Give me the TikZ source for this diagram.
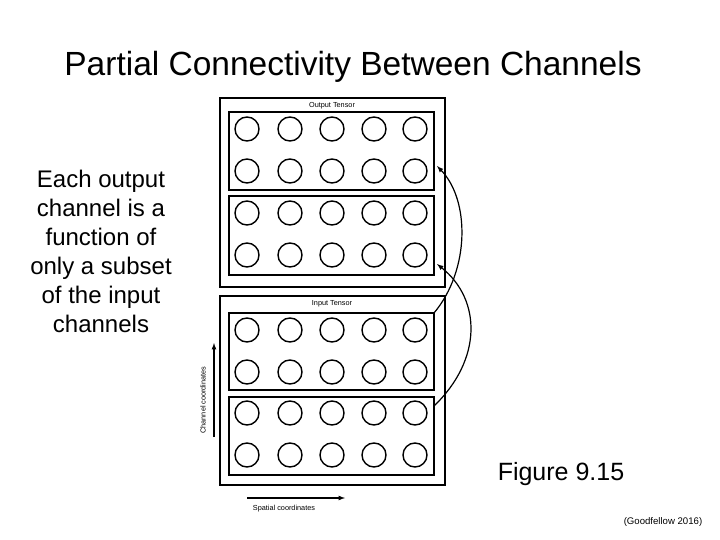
\documentclass[tikz,border=0pt]{standalone}
\usepackage{fontspec}
\setmainfont{Liberation Sans}
\begin{document}
\begin{tikzpicture}[x=1pt,y=-1pt,
  box/.style={draw,line width=1.4pt},
  unit/.style={circle,draw,line width=1.4pt,minimum size=24pt,inner sep=0pt},
  tiny/.style={font=\fontsize{7.3}{8}\selectfont},
  conn/.style={line width=1.2pt,-latex}]
\useasboundingbox (0,0) rectangle (720,540);
\node[font=\fontsize{33.5}{40}\selectfont] (title) at (353,67) {Partial Connectivity Between Channels};
\node[align=center,font=\fontsize{24}{29}\selectfont] (desc) at (101,251) {Each output\\channel is a\\function of\\only a subset\\of the input\\channels};
\node[font=\fontsize{25}{30}\selectfont] (fig) at (561,474) {Figure 9.15};
\node[font=\fontsize{9.6}{11}\selectfont] (cite) at (663,522) {(Goodfellow 2016)};
% outer tensors
\node[box,minimum width=225pt,minimum height=189pt,inner sep=0pt] (out) at (332.5,192.5) {};
\node[box,minimum width=225pt,minimum height=189pt,inner sep=0pt] (in) at (332.5,390.5) {};
\node[tiny] (outl) at (332,106) {Output Tensor};
\node[tiny] (inl) at (332,304) {Input Tensor};
% inner boxes
\node[box,minimum width=205pt,minimum height=78pt,inner sep=0pt] (b1) at (331.5,151) {};
\node[box,minimum width=205pt,minimum height=79pt,inner sep=0pt] (b2) at (331.5,235.5) {};
\node[box,minimum width=205pt,minimum height=77pt,inner sep=0pt] (b3) at (331.5,351.5) {};
\node[box,minimum width=205pt,minimum height=78pt,inner sep=0pt] (b4) at (331.5,436) {};
\foreach \y/\n in {129/a,171/b,213/c,255/d,330/e,372/f,413/g,455/h}{
  \foreach \x/\m in {247/1,290/2,332/3,374/4,415/5}{
    \node[unit] (c\n\m) at (\x,\y) {};
  }
}
% connections
\coordinate (s1) at (434,313);
\coordinate (t1) at (437,166);
\coordinate (s2) at (434,406);
\coordinate (t2) at (437,264);
\draw[conn] (s1) .. controls (470,270) and (470,200) .. (t1);
\draw[conn] (s2) .. controls (482,360) and (482,300) .. (t2);
% axes
\coordinate (ch0) at (214,437);
\coordinate (ch1) at (214,343);
\draw[line width=1.2pt,-latex] (ch0) -- (ch1);
\node[tiny,rotate=90] (chl) at (203,400) {Channel coordinates};
\coordinate (sp0) at (247,498);
\coordinate (sp1) at (345,498);
\draw[line width=1.2pt,-latex] (sp0) -- (sp1);
\node[tiny] (spl) at (284,509) {Spatial coordinates};
\end{tikzpicture}
\end{document}
